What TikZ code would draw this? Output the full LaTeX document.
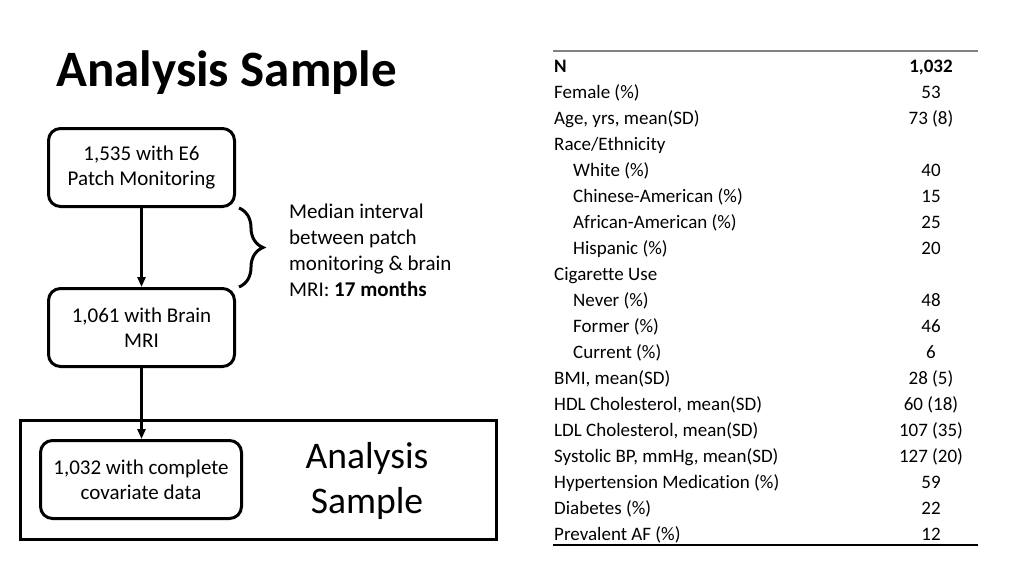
\documentclass[tikz,border=0pt]{standalone}
\usepackage{fontspec}
\setmainfont{Carlito}[Ligatures=NoCommon]
\usetikzlibrary{arrows.meta,decorations.pathreplacing}
\begin{document}
\begin{tikzpicture}[x=1pt,y=-1pt,
  flowbox/.style={draw, line width=3pt, rounded corners=12pt, inner sep=0pt, align=center, font=\fontsize{21}{25}\selectfont},
  flowarrow/.style={line width=2.5pt, -{Triangle[length=10pt,width=8pt]}},
  cell/.style={inner sep=0pt, font=\fontsize{19}{23}\selectfont},
  rule/.style={line width=1.5pt},
]
\useasboundingbox (0,0) rectangle (1024,576);
\node[anchor=base west, inner sep=0pt, font=\fontsize{51}{60}\selectfont\bfseries] (title) at (56,86) {Analysis Sample};

\node[flowbox, minimum width=186pt, minimum height=78pt] (b1) at (141.5,167.5) {1,535 with E6\\Patch Monitoring};
\node[flowbox, minimum width=186pt, minimum height=78pt] (b2) at (141.5,327.5) {1,061 with Brain\\MRI};
\node[draw, line width=3pt, minimum width=476pt, minimum height=119pt, inner sep=0pt] (frame) at (258.5,480) {};
\node[flowbox, minimum width=201pt, minimum height=78pt] (b3) at (141,479.5) {1,032 with complete\\covariate data};
\node[align=center, inner sep=0pt, font=\fontsize{37.6}{45}\selectfont] (lbl) at (367,481) {Analysis\\Sample};

\draw[flowarrow] (b1.south) -- (b2.north);
\draw[flowarrow] (b2.south) -- (b2.south |- b3.north);

\draw[line width=3pt, decorate, decoration={brace, amplitude=24pt}]
  ([xshift=3pt]b1.south east) -- ([xshift=3pt]b2.north east);
\node[anchor=west, align=left, inner sep=0pt, font=\fontsize{21}{26}\selectfont] (note) at (289,250)
  {Median interval\\between patch\\monitoring \& brain\\MRI: \textbf{17 months}};

% table
\coordinate (tl) at (553,51);
\coordinate (tr) at (978,51);
\coordinate (bl) at (553,545);
\coordinate (br) at (978,545);
\draw[line width=2pt, black!50] (tl) -- (tr);
\draw[rule] (bl) -- (br);
\foreach \lab/\ind/\val [count=\i from 0] in {
  {\textbf{N}}/0/{\textbf{1,032}},
  {Female (\%)}/0/{53},
  {Age, yrs, mean(SD)}/0/{73 (8)},
  {Race/Ethnicity}/0/{},
  {White (\%)}/1/{40},
  {Chinese-American (\%)}/1/{15},
  {African-American (\%)}/1/{25},
  {Hispanic (\%)}/1/{20},
  {Cigarette Use}/0/{},
  {Never (\%)}/1/{48},
  {Former (\%)}/1/{46},
  {Current (\%)}/1/{6},
  {BMI, mean(SD)}/0/{28 (5)},
  {HDL Cholesterol, mean(SD)}/0/{60 (18)},
  {LDL Cholesterol, mean(SD)}/0/{107 (35)},
  {Systolic BP, mmHg, mean(SD)}/0/{127 (20)},
  {Hypertension Medication (\%)}/0/{59},
  {Diabetes (\%)}/0/{22},
  {Prevalent AF (\%)}/0/{12}}
{
  \node[cell, anchor=base west] (lab\i) at (554+19*\ind, 72+26*\i) {\lab};
  \node[cell, anchor=base] (val\i) at (931, 72+26*\i) {\val};
}
\end{tikzpicture}
\end{document}
